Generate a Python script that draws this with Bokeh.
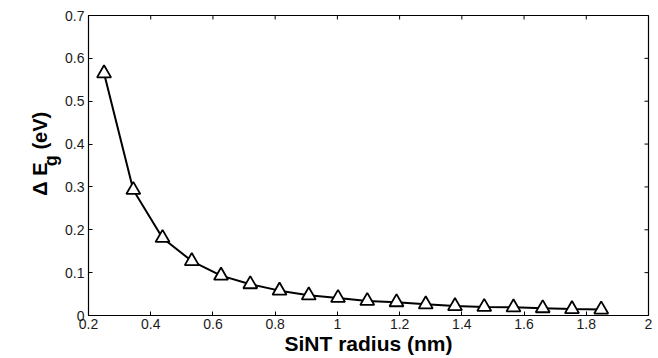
import math
from bokeh.plotting import figure
from bokeh.layouts import row
from bokeh.models import LinearAxis, Range1d, NumeralTickFormatter, FixedTicker
from bokeh.core.properties import value
from bokeh.embed import file_html
from bokeh.resources import INLINE

radius = [0.25, 0.344, 0.438, 0.532, 0.626, 0.72, 0.814, 0.908, 1.002, 1.096,
          1.19, 1.284, 1.378, 1.472, 1.566, 1.66, 1.754, 1.848]
delta_eg = [0.565, 0.293, 0.181, 0.127, 0.093, 0.073, 0.058, 0.047, 0.041, 0.034,
            0.031, 0.026, 0.022, 0.020, 0.019, 0.017, 0.015, 0.014]
x_ticks = [0.2, 0.4, 0.6, 0.8, 1.0, 1.2, 1.4, 1.6, 1.8, 2.0]
y_ticks = [0, 0.1, 0.2, 0.3, 0.4, 0.5, 0.6, 0.7]
x_min, x_max = 0.2, 2.0
y_min, y_max = 0.0, 0.7
x_title = "SiNT radius (nm)"
y_title_parts = ["Δ E", "g", "(eV)"]

FONT = "Liberation Sans"
H = 358
LW = 62  # width of the strip holding the rotated y title

# ---- main plot ----
p = figure(width=658 - LW, height=H, output_backend="svg", toolbar_location=None,
           x_range=Range1d(x_min, x_max), y_range=Range1d(y_min, y_max),
           min_border_left=88 - LW, min_border_right=10, min_border_top=15, min_border_bottom=43,
           x_axis_location=None, y_axis_location=None)
p.grid.visible = False
p.outline_line_color = "black"
p.outline_line_width = 1.2
p.background_fill_color = "white"
p.border_fill_color = "white"

def style_axis(ax, ticks):
    ax.ticker = FixedTicker(ticks=ticks)
    ax.formatter = NumeralTickFormatter(format="0.[0]")
    ax.major_tick_in = 4
    ax.major_tick_out = 0
    ax.minor_tick_line_color = None
    ax.axis_line_color = "black"
    ax.major_tick_line_color = "black"
    ax.major_label_text_font = FONT
    ax.major_label_text_font_size = "14px"
    ax.major_label_text_color = "#1a1a1a"
    ax.major_label_standoff = 3
    ax.axis_label_text_font = FONT
    ax.axis_label_text_font_style = "bold"
    ax.axis_label_text_font_size = "21px"
    ax.axis_label_text_color = "black"
    ax.axis_label_standoff = 0

xb = LinearAxis(axis_label=x_title)
style_axis(xb, x_ticks)
p.add_layout(xb, "below")
yl = LinearAxis()
style_axis(yl, y_ticks)
yl.major_label_standoff = 4
p.add_layout(yl, "left")

# inner ticks on top and right edges (box style)
p.ray(x=x_ticks, y=[y_max] * len(x_ticks), length=4, length_units="screen",
      angle=-math.pi / 2, line_color="black", line_width=1)
p.ray(x=[x_max] * len(y_ticks), y=y_ticks, length=4, length_units="screen",
      angle=math.pi, line_color="black", line_width=1)

p.line(radius, delta_eg, line_color="black", line_width=2)
p.scatter(radius, delta_eg, marker="triangle", size=14, fill_color="white",
          line_color="black", line_width=1.8)

# ---- strip with rotated y title (pixel coordinates) ----
lab = figure(width=LW, height=H, output_backend="svg", toolbar_location=None,
             x_range=Range1d(0, LW), y_range=Range1d(0, H),
             min_border=0, x_axis_location=None, y_axis_location=None)
lab.grid.visible = False
lab.outline_line_color = None
lab.border_fill_color = "white"
lab.background_fill_color = "white"

common = dict(angle=math.pi / 2, text_align="left", text_baseline="alphabetic",
              text_font=value(FONT), text_font_style="bold", text_color="black")
lab.text(x=[39], y=[H - 215], text=[y_title_parts[0]], text_font_size="20px", **common)
lab.text(x=[50], y=[H - 180], text=[y_title_parts[1]], text_font_size="18px", **common)
lab.text(x=[39], y=[H - 160], text=[y_title_parts[2]], text_font_size="20px", **common)

layout = row(lab, p, spacing=0)
open("out.html", "w").write(file_html(layout, INLINE))
